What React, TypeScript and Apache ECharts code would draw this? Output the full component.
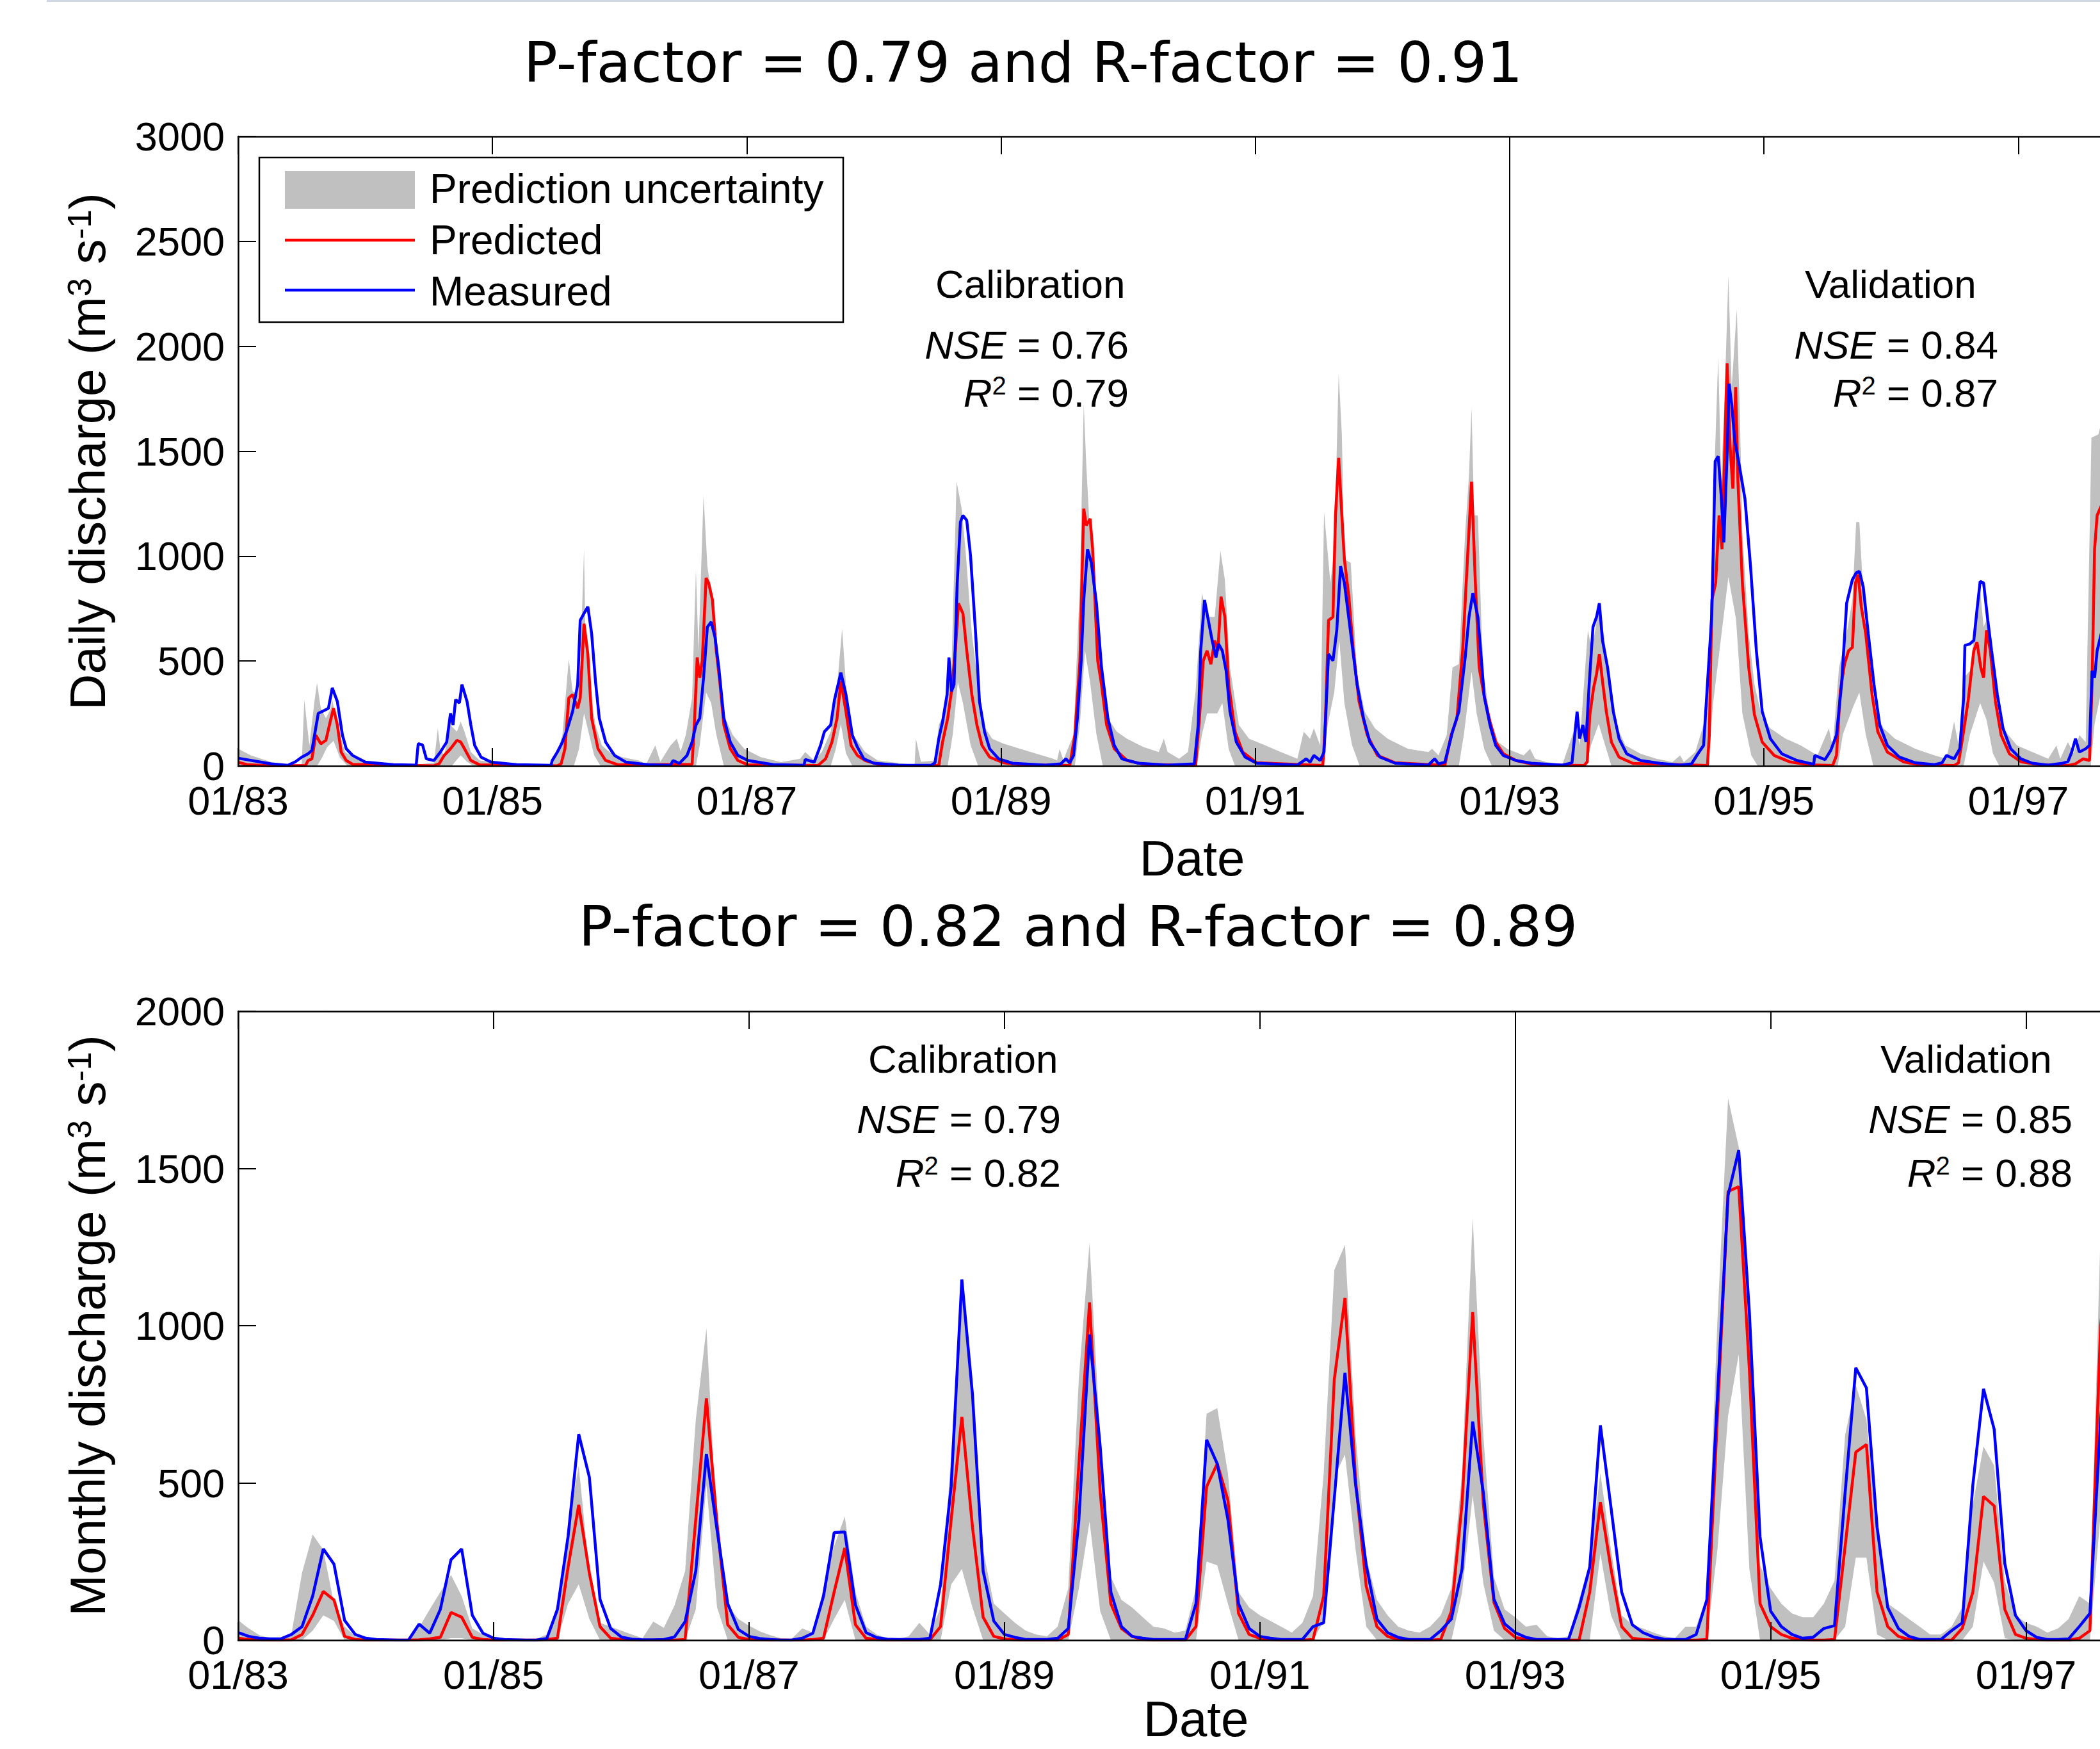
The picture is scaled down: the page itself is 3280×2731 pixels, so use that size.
import React, { useEffect, useRef } from "react";
import * as echarts from "echarts";

const START_YEAR = 1983;
const END_YEAR = 1998;
const CALIBRATION_END = 1993;
const X_TICK_STEP = 2;
const DAILY_Y_MAX = 3000;
const MONTHLY_Y_MAX = 2000;
const Y_TICK_STEP = 500;

const titles = ["P-factor = 0.79 and R-factor = 0.91", "P-factor = 0.82 and R-factor = 0.89"];
const yTitles = ["Daily discharge", "Monthly discharge"];
const periodNames = ["Calibration", "Validation"];
const dailyNSE = ["0.76", "0.84"];
const dailyR2 = ["0.79", "0.87"];
const monthlyNSE = ["0.79", "0.85"];
const monthlyR2 = ["0.82", "0.88"];
const legendNames = ["Prediction uncertainty", "Predicted", "Measured"];

// Daily series: [decimal year, discharge]
const dailyUpper = [
  [1983.00,82],[1983.10,50],[1983.26,18],[1983.39,5],[1983.50,10],[1983.52,316],[1983.56,98],[1983.60,308],[1983.62,396],[1983.65,275],[1983.69,227],[1983.73,275],[1983.74,316],[1983.78,195],[1983.84,66],[1983.90,42],[1984.03,18],[1984.38,5],[1984.54,15],[1984.57,179],[1984.59,80],[1984.62,50],[1984.67,195],[1984.72,163],[1984.75,211],[1984.78,163],[1984.83,66],[1984.90,26],
  [1985.19,5],[1985.47,8],[1985.51,66],[1985.55,147],[1985.60,509],[1985.63,356],[1985.67,340],[1985.69,469],[1985.72,1033],[1985.73,640],[1985.76,404],[1985.81,195],[1985.86,98],[1985.92,66],[1986.02,42],[1986.15,26],[1986.21,10],[1986.28,98],[1986.32,20],[1986.40,98],[1986.45,130],[1986.48,70],[1986.52,147],[1986.57,324],[1986.60,936],[1986.62,549],[1986.66,1290],[1986.69,952],[1986.73,791],[1986.77,469],[1986.82,243],[1986.89,147],[1986.98,82],
  [1987.11,42],[1987.27,18],[1987.42,34],[1987.46,66],[1987.53,26],[1987.59,66],[1987.66,163],[1987.70,308],[1987.75,654],[1987.78,388],[1987.83,147],[1987.87,120],[1987.93,66],[1988.03,26],[1988.32,5],[1988.33,130],[1988.37,20],[1988.48,26],[1988.51,195],[1988.56,259],[1988.61,469],[1988.65,1355],[1988.69,1226],[1988.72,1033],[1988.77,630],[1988.82,388],[1988.86,195],[1988.93,130],
  [1989.02,106],[1989.15,82],[1989.28,58],[1989.41,34],[1989.44,26],[1989.46,82],[1989.49,30],[1989.57,147],[1989.62,872],[1989.65,1725],[1989.67,1435],[1989.70,1097],[1989.75,791],[1989.79,469],[1989.84,227],[1989.91,163],[1989.99,130],[1990.12,90],[1990.24,66],[1990.28,130],[1990.31,66],[1990.40,34],[1990.47,66],[1990.53,356],[1990.58,823],[1990.62,710],[1990.68,710],[1990.725,1025],[1990.76,888],[1990.80,469],[1990.87,195],[1990.95,130],
  [1991.08,98],[1991.20,66],[1991.33,34],[1991.38,163],[1991.43,130],[1991.46,179],[1991.51,98],[1991.54,1210],[1991.59,872],[1991.62,1033],[1991.655,1870],[1991.68,1580],[1991.70,984],[1991.75,968],[1991.80,437],[1991.86,259],[1991.94,179],[1992.04,130],[1992.20,82],[1992.36,66],[1992.39,82],[1992.44,50],[1992.505,147],[1992.55,469],[1992.60,485],[1992.65,1113],[1992.68,1387],[1992.70,1709],[1992.72,1194],[1992.75,1194],[1992.78,630],[1992.80,420],[1992.845,227],[1992.91,114],[1992.98,82],
  [1993.11,50],[1993.16,82],[1993.20,34],[1993.29,18],[1993.415,8],[1993.52,195],[1993.55,100],[1993.615,646],[1993.646,549],[1993.677,662],[1993.705,775],[1993.74,630],[1993.785,388],[1993.85,179],[1993.91,98],[1994.03,58],[1994.155,34],[1994.28,18],[1994.34,50],[1994.37,18],[1994.46,66],[1994.555,259],[1994.616,1516],[1994.64,1951],[1994.663,1355],[1994.69,1758],[1994.72,2338],[1994.746,1806],[1994.786,2177],[1994.81,1677],[1994.83,1113],[1994.88,630],[1994.925,388],[1994.986,227],
  [1995.05,179],[1995.17,130],[1995.29,98],[1995.42,50],[1995.51,179],[1995.54,90],[1995.59,469],[1995.65,630],[1995.695,791],[1995.725,1162],[1995.75,1162],[1995.79,710],[1995.83,469],[1995.88,259],[1995.94,179],[1996.03,130],[1996.19,82],[1996.34,50],[1996.435,34],[1996.495,211],[1996.53,100],[1996.57,420],[1996.62,453],[1996.665,678],[1996.70,839],[1996.727,662],[1996.76,710],[1996.79,469],[1996.835,259],[1996.90,163],[1996.99,98],
  [1997.11,66],[1997.235,34],[1997.30,98],[1997.33,34],[1997.39,114],[1997.435,60],[1997.48,147],[1997.53,114],[1997.575,1564],[1997.63,1580],[1997.70,1750],[1997.80,1200],[1997.90,600],[1998.00,300]
];

const dailyLower = [
  [1983.00,0],[1983.62,0],[1983.66,40],[1983.70,90],[1983.75,120],[1983.80,40],[1983.86,0],[1984.68,0],[1984.72,30],[1984.75,50],[1984.80,20],[1984.85,0],[1985.64,0],[1985.68,80],[1985.72,250],[1985.76,150],[1985.80,50],[1985.85,0],[1986.60,0],[1986.63,100],[1986.68,350],[1986.72,300],[1986.76,150],[1986.82,0],[1987.66,0],[1987.70,80],[1987.74,200],[1987.78,60],[1987.83,0],[1988.58,0],[1988.62,150],[1988.66,400],[1988.70,300],[1988.76,100],[1988.82,0],[1989.58,0],[1989.62,200],[1989.66,550],[1989.70,400],[1989.75,150],[1989.80,0],[1990.54,0],[1990.58,150],[1990.62,250],[1990.70,250],[1990.74,300],[1990.79,80],[1990.84,0],[1991.53,0],[1991.57,200],[1991.62,350],[1991.66,600],[1991.70,300],[1991.76,100],[1991.82,0],[1992.60,0],[1992.64,150],[1992.70,450],[1992.74,250],[1992.80,80],[1992.86,0],[1993.60,0],[1993.64,100],[1993.70,200],[1993.75,100],[1993.80,0],[1994.56,0],[1994.60,300],[1994.66,600],[1994.72,900],[1994.78,700],[1994.83,250],[1994.90,50],[1994.95,0],[1995.58,0],[1995.62,150],[1995.70,280],[1995.75,350],[1995.80,150],[1995.86,0],[1996.57,0],[1996.62,150],[1996.70,300],[1996.75,220],[1996.80,60],[1996.85,0],[1997.57,0],[1997.60,200],[1997.70,500],[1997.80,300],[1997.90,100],[1998.00,0]
];

const dailyPredicted = [
  [1983.00,18],[1983.07,6],[1983.26,1],[1983.53,2],[1983.55,26],[1983.58,34],[1983.61,147],[1983.65,106],[1983.69,122],[1983.73,227],[1983.75,275],[1983.78,195],[1983.81,66],[1983.85,26],[1983.90,8],[1984.54,1],[1984.58,10],[1984.62,50],[1984.67,82],[1984.72,122],[1984.75,114],[1984.78,82],[1984.83,26],[1984.90,5],
  [1985.51,1],[1985.54,10],[1985.57,82],[1985.60,324],[1985.63,340],[1985.67,275],[1985.69,324],[1985.72,678],[1985.75,533],[1985.78,227],[1985.83,82],[1985.89,26],[1985.99,5],[1986.57,8],[1986.59,227],[1986.61,517],[1986.63,420],[1986.65,501],[1986.68,896],[1986.70,872],[1986.73,791],[1986.76,549],[1986.79,388],[1986.82,195],[1986.87,82],[1986.93,26],
  [1987.01,5],[1987.56,2],[1987.62,34],[1987.67,114],[1987.71,227],[1987.74,404],[1987.78,259],[1987.82,98],[1987.87,50],[1987.93,26],[1988.06,3],[1988.51,2],[1988.54,114],[1988.58,227],[1988.61,356],[1988.64,549],[1988.665,775],[1988.70,727],[1988.73,549],[1988.77,340],[1988.81,195],[1988.85,98],[1988.91,42],
  [1989.02,15],[1989.15,5],[1989.54,2],[1989.58,147],[1989.62,501],[1989.65,1226],[1989.67,1146],[1989.70,1178],[1989.72,1033],[1989.76,501],[1989.79,388],[1989.83,195],[1989.89,82],[1989.99,26],[1990.12,8],[1990.53,2],[1990.56,227],[1990.59,501],[1990.62,549],[1990.65,485],[1990.68,598],[1990.705,549],[1990.73,807],[1990.76,710],[1990.79,388],[1990.84,163],[1990.90,66],
  [1991.01,15],[1991.53,2],[1991.55,195],[1991.575,694],[1991.61,710],[1991.63,1194],[1991.655,1468],[1991.68,1194],[1991.70,984],[1991.735,807],[1991.77,549],[1991.815,308],[1991.88,147],[1991.96,50],[1992.10,15],[1992.49,2],[1992.54,147],[1992.585,227],[1992.63,549],[1992.665,952],[1992.70,1355],[1992.73,872],[1992.76,469],[1992.80,330],[1992.845,211],[1992.89,114],[1992.95,58],
  [1993.05,26],[1993.20,5],[1993.585,2],[1993.61,20],[1993.63,243],[1993.66,372],[1993.683,437],[1993.705,533],[1993.73,404],[1993.76,259],[1993.80,114],[1993.86,42],[1993.97,12],[1994.555,2],[1994.57,147],[1994.59,791],[1994.62,872],[1994.647,1194],[1994.67,1033],[1994.69,1484],[1994.71,1919],[1994.734,1516],[1994.755,1322],[1994.777,1806],[1994.795,1355],[1994.83,872],[1994.88,469],[1994.925,243],[1994.986,114],
  [1995.08,50],[1995.20,20],[1995.356,5],[1995.54,2],[1995.57,50],[1995.60,356],[1995.633,485],[1995.665,549],[1995.695,565],[1995.72,872],[1995.74,912],[1995.765,759],[1995.80,630],[1995.85,340],[1995.895,163],[1995.97,66],[1996.095,20],[1996.22,5],[1996.495,2],[1996.53,15],[1996.565,147],[1996.605,308],[1996.65,549],[1996.675,590],[1996.705,469],[1996.727,420],[1996.75,646],[1996.78,549],[1996.82,308],[1996.865,147],[1996.93,58],
  [1997.02,20],[1997.17,5],[1997.39,2],[1997.45,10],[1997.51,34],[1997.56,26],[1997.58,388],[1997.60,1033],[1997.62,1194],[1997.66,1250],[1997.72,1500],[1997.80,900],[1997.90,400],[1998.00,200]
];

const dailyMeasured = [
  [1983.00,37],[1983.26,10],[1983.39,3],[1983.45,20],[1983.50,42],[1983.55,58],[1983.58,74],[1983.63,251],[1983.66,259],[1983.71,275],[1983.74,372],[1983.78,307],[1983.82,147],[1983.85,82],[1983.90,50],[1984.00,18],[1984.22,6],[1984.40,4],[1984.416,106],[1984.45,100],[1984.48,34],[1984.54,26],[1984.59,66],[1984.64,114],[1984.67,251],[1984.69,195],[1984.71,316],[1984.74,300],[1984.76,388],[1984.80,307],[1984.83,195],[1984.86,98],[1984.91,42],[1984.99,18],
  [1985.19,6],[1985.46,3],[1985.47,26],[1985.51,66],[1985.55,114],[1985.59,179],[1985.63,259],[1985.67,388],[1985.69,694],[1985.72,727],[1985.75,759],[1985.78,630],[1985.81,404],[1985.84,227],[1985.89,114],[1985.96,50],[1986.05,18],[1986.24,5],[1986.40,3],[1986.42,26],[1986.47,12],[1986.53,50],[1986.57,114],[1986.60,195],[1986.63,227],[1986.66,420],[1986.69,662],[1986.72,686],[1986.75,614],[1986.78,469],[1986.82,227],[1986.87,114],[1986.93,50],
  [1987.01,26],[1987.21,6],[1987.45,3],[1987.46,31],[1987.53,18],[1987.58,98],[1987.61,163],[1987.66,195],[1987.69,316],[1987.74,445],[1987.78,340],[1987.83,147],[1987.87,90],[1987.92,34],[1988.00,13],[1988.19,4],[1988.45,3],[1988.48,15],[1988.51,130],[1988.54,211],[1988.575,340],[1988.59,517],[1988.61,356],[1988.63,388],[1988.655,872],[1988.68,1162],[1988.70,1194],[1988.73,1170],[1988.76,1000],[1988.80,630],[1988.83,308],[1988.87,163],[1988.91,82],[1988.98,34],
  [1989.09,13],[1989.35,4],[1989.47,10],[1989.51,34],[1989.54,15],[1989.57,50],[1989.60,227],[1989.63,501],[1989.65,791],[1989.68,1033],[1989.71,968],[1989.75,775],[1989.79,469],[1989.84,227],[1989.89,98],[1989.95,34],[1990.08,13],[1990.31,4],[1990.52,10],[1990.55,195],[1990.57,549],[1990.60,791],[1990.63,694],[1990.66,598],[1990.69,517],[1990.71,582],[1990.74,549],[1990.77,453],[1990.80,259],[1990.85,114],[1990.92,42],
  [1991.01,13],[1991.33,4],[1991.40,34],[1991.43,18],[1991.46,50],[1991.51,26],[1991.54,66],[1991.575,533],[1991.61,501],[1991.64,646],[1991.67,952],[1991.70,872],[1991.75,630],[1991.80,388],[1991.85,227],[1991.90,114],[1991.98,42],[1992.10,13],[1992.36,4],[1992.41,34],[1992.44,10],[1992.49,18],[1992.55,163],[1992.60,259],[1992.65,517],[1992.68,710],[1992.71,823],[1992.75,710],[1992.77,560],[1992.80,330],[1992.845,195],[1992.89,98],[1992.95,50],
  [1993.05,26],[1993.17,13],[1993.415,4],[1993.49,15],[1993.53,259],[1993.55,130],[1993.575,195],[1993.60,114],[1993.625,388],[1993.655,662],[1993.683,710],[1993.705,775],[1993.73,598],[1993.77,469],[1993.815,259],[1993.86,130],[1993.92,58],[1994.03,26],[1994.185,12],[1994.34,4],[1994.43,10],[1994.48,58],[1994.525,98],[1994.555,388],[1994.59,727],[1994.616,1452],[1994.64,1476],[1994.663,1290],[1994.684,1065],[1994.71,1484],[1994.725,1822],[1994.746,1725],[1994.77,1548],[1994.80,1452],[1994.85,1274],[1994.894,952],[1994.94,549],[1994.986,259],
  [1995.05,130],[1995.14,58],[1995.26,26],[1995.39,8],[1995.40,50],[1995.48,30],[1995.525,74],[1995.57,147],[1995.61,388],[1995.65,775],[1995.695,888],[1995.725,920],[1995.75,928],[1995.78,855],[1995.82,630],[1995.865,388],[1995.91,195],[1995.97,98],[1996.065,42],[1996.19,15],[1996.34,6],[1996.40,15],[1996.435,50],[1996.495,34],[1996.54,82],[1996.57,324],[1996.58,574],[1996.62,582],[1996.65,598],[1996.675,743],[1996.70,880],[1996.727,872],[1996.76,694],[1996.79,549],[1996.835,340],[1996.88,179],[1996.94,82],
  [1997.02,34],[1997.11,13],[1997.235,4],[1997.34,12],[1997.39,20],[1997.42,66],[1997.45,130],[1997.48,66],[1997.53,82],[1997.56,98],[1997.58,453],[1997.60,420],[1997.62,549],[1997.66,650],[1997.72,900],[1997.80,700],[1997.90,300],[1998.00,150]
];

// Monthly series: one value per month from 01/1983
const monthlyUpper = [
  63,37,16,6,6,18,214,336,287,116,43,12,
  4,4,4,4,4,40,98,153,207,140,37,18,
  6,4,4,4,4,18,110,360,555,213,55,43,
  30,18,6,59,39,110,220,701,992,348,110,67,
  46,28,16,6,4,37,24,165,299,393,153,43,
  18,6,4,12,55,18,104,592,1140,800,287,116,
  85,55,30,18,12,43,165,836,1263,640,201,128,
  104,73,43,37,24,30,165,720,738,531,153,104,
  79,61,43,24,55,140,530,1177,1257,653,262,128,
  79,43,30,24,43,79,165,531,1342,653,200,98,
  73,43,49,12,6,12,128,250,531,287,79,49,
  37,24,12,6,43,43,140,1019,1723,1568,1043,238,
  165,116,85,73,73,116,189,653,811,701,360,116,
  92,67,43,18,18,43,104,433,616,555,189,79,
  55,43,24,37,67,140,116,1300,1600,900,300,100
];
const monthlyLower = [
  0,0,0,0,0,0,0,30,79,61,0,0,
  0,0,0,0,0,0,0,0,6,6,0,0,
  0,0,0,0,0,0,0,116,177,67,0,0,
  0,0,0,0,0,0,0,98,494,104,0,0,
  0,0,0,0,0,0,0,0,67,128,0,0,
  0,0,0,0,0,0,0,177,226,104,0,0,
  0,0,0,0,0,0,0,165,378,92,0,0,
  0,0,0,0,0,0,0,250,238,116,0,0,
  0,0,0,0,0,0,60,519,590,287,43,0,
  0,0,0,0,0,0,0,150,460,180,30,0,
  0,0,0,0,0,0,0,0,275,79,0,0,
  0,0,0,0,0,0,0,287,714,909,226,0,
  0,0,0,0,0,0,0,43,262,262,18,0,
  0,0,0,0,0,0,0,43,250,183,6,0,
  0,0,0,0,0,0,0,400,600,300,50,0
];
const monthlyPredicted = [
  6,2,1,0,0,1,18,79,155,128,12,2,
  0,0,0,0,0,1,4,9,88,73,9,2,
  0,0,0,0,0,2,6,232,430,213,43,6,
  2,1,0,0,0,0,2,384,769,370,49,9,
  2,1,0,0,0,0,2,6,153,293,49,6,
  2,0,0,0,0,1,43,384,710,360,73,12,
  4,1,0,0,0,0,18,560,1074,470,116,37,
  12,2,0,0,0,0,43,488,561,445,85,18,
  6,2,0,0,0,2,140,830,1088,506,171,43,
  12,2,0,0,0,2,92,433,1043,433,120,37,
  9,2,0,0,0,0,0,153,439,226,43,6,
  2,0,0,0,0,0,2,714,1427,1442,860,116,
  43,18,6,2,0,0,2,299,598,622,153,43,
  12,2,0,0,0,0,37,153,457,427,98,18,
  6,2,0,0,0,6,30,1000,1300,700,200,50
];
const monthlyMeasured = [
  24,12,6,4,4,18,43,140,290,242,63,18,
  6,2,1,0,0,51,22,98,256,290,79,22,
  6,2,1,0,0,5,98,330,655,518,130,37,
  10,3,1,1,2,10,59,220,592,350,116,34,
  12,5,2,0,0,6,22,140,342,344,112,24,
  8,3,2,2,2,6,177,490,1147,781,220,61,
  18,9,2,2,2,6,37,384,972,616,153,43,
  12,6,2,2,2,2,116,637,561,384,116,37,
  12,6,2,2,2,43,55,453,850,494,238,67,
  24,9,2,2,2,30,67,226,695,470,130,52,
  24,9,2,2,2,2,104,232,683,421,153,49,
  24,10,3,2,2,18,128,775,1415,1558,1043,329,
  92,43,18,6,9,37,46,470,866,802,360,104,
  37,12,2,2,2,30,55,494,799,671,244,79,
  30,9,2,2,4,43,85,700,1100,800,250,80
];

const GRAY = "#c0c0c0";
const RED = "#ff0000";
const BLUE = "#0000ff";
const FONT = "'Liberation Sans', Arial, sans-serif";
const TITLE_FONT = "'DejaVu Sans', sans-serif";
const LINE_W = 4.5;

const fromYears = (pairs: number[][]) => pairs.map(([yr, v]) => [yr - START_YEAR, v]);
const fromMonths = (vals: number[]) => vals.map((v, i) => [i / 12, v]);
const xLabel = (v: number) => "01/" + String((START_YEAR + v) % 100).padStart(2, "0");

function xAxisDef(gridIndex: number, position: string, showLabel: boolean) {
  return {
    gridIndex, type: "value", position, min: 0, max: END_YEAR - START_YEAR, interval: X_TICK_STEP,
    axisLine: { show: true, onZero: false, lineStyle: { color: "#000", width: 2.5 } },
    axisTick: { show: true, inside: true, length: 28, lineStyle: { color: "#000", width: 2 } },
    axisLabel: {
      show: showLabel, formatter: xLabel, fontFamily: FONT, fontSize: 63, color: "#000", margin: 22,
      hideOverlap: false, showMaxLabel: false,
    },
    splitLine: { show: false }, z: 5,
  };
}
function yAxisDef(gridIndex: number, max: number) {
  return {
    gridIndex, type: "value", min: 0, max, interval: Y_TICK_STEP,
    axisLine: { show: true, onZero: false, lineStyle: { color: "#000", width: 2.5 } },
    axisTick: { show: true, inside: true, length: 28, lineStyle: { color: "#000", width: 2 } },
    axisLabel: { formatter: (v: number) => String(v), fontFamily: FONT, fontSize: 63, color: "#000", margin: 21, hideOverlap: false },
    splitLine: { show: false }, z: 5,
  };
}
function areaSeries(data: number[][], color: string, xi: number, yi: number) {
  return {
    type: "line", xAxisIndex: xi, yAxisIndex: yi, data, symbol: "none", showSymbol: false, silent: true,
    lineStyle: { width: 0, opacity: 0 }, areaStyle: { color, opacity: 1, origin: "start" }, z: 2,
  };
}
function lineSeries(data: number[][], color: string, xi: number, yi: number, divider: boolean) {
  const s: any = {
    type: "line", xAxisIndex: xi, yAxisIndex: yi, data, symbol: "none", showSymbol: false, silent: true,
    lineStyle: { color, width: LINE_W }, z: 3,
  };
  if (divider) {
    s.markLine = {
      silent: true, symbol: ["none", "none"], label: { show: false }, animation: false,
      lineStyle: { color: "#000", width: 2, type: "solid" },
      data: [{ xAxis: CALIBRATION_END - START_YEAR }],
    };
  }
  return s;
}

const rich = {
  a: { fontFamily: FONT, fontSize: 62, fill: "#000" },
  i: { fontFamily: FONT, fontSize: 62, fill: "#000", fontStyle: "italic" },
  s: { fontFamily: FONT, fontSize: 40, fill: "#000", verticalAlign: "top" },
};
const titleRich = {
  a: { fontFamily: FONT, fontSize: 78, fill: "#000" },
  s: { fontFamily: FONT, fontSize: 52, fill: "#000", verticalAlign: "top" },
};

function text(x: number, y: number, str: string, extra: any = {}) {
  return {
    type: "text", x, y, silent: true, z: 100,
    style: { text: str, fill: "#000", fontFamily: FONT, fontSize: 62, align: "left", verticalAlign: "middle", ...extra },
  };
}
function stats(xRight: number, yNse: number, yR2: number, nse: string, r2: string) {
  return [
    text(xRight, yNse, `{i|NSE}{a| = ${nse}}`, { align: "right", rich }),
    text(xRight, yR2, `{i|R}{s|2}{a| = ${r2}}`, { align: "right", rich }),
  ];
}
function yTitle(x: number, y: number, label: string) {
  return {
    type: "text", x, y, rotation: Math.PI / 2, silent: true, z: 100,
    style: {
      text: `{a|${label} (m}{s|3}{a| s}{s|-1}{a|)}`, rich: titleRich,
      align: "center", verticalAlign: "middle", fill: "#000",
    },
  };
}

function buildOption() {
  const graphic: any[] = [
    { type: "rect", shape: { x: 73, y: 0, width: 3207, height: 3 }, style: { fill: "#cfd6e4" }, silent: true },
    text(1598, 97, titles[0], { fontFamily: TITLE_FONT, fontSize: 88, align: "center" }),
    text(1684, 1446, titles[1], { fontFamily: TITLE_FONT, fontSize: 88, align: "center" }),
    yTitle(137, 705, yTitles[0]),
    yTitle(137, 2070, yTitles[1]),
    text(1862, 1340, "Date", { fontSize: 78, align: "center" }),
    text(1868, 2684, "Date", { fontSize: 78, align: "center" }),
    text(1461, 443, periodNames[0]),
    text(2819, 443, periodNames[1]),
    ...stats(1763, 538, 613, dailyNSE[0], dailyR2[0]),
    ...stats(3121, 538, 613, dailyNSE[1], dailyR2[1]),
    text(1356, 1653, periodNames[0]),
    text(2937, 1653, periodNames[1]),
    ...stats(1657, 1747, 1831, monthlyNSE[0], monthlyR2[0]),
    ...stats(3237, 1747, 1831, monthlyNSE[1], monthlyR2[1]),
    // legend
    { type: "rect", z: 99, silent: true, shape: { x: 405, y: 246, width: 912, height: 257 }, style: { fill: "#fff", stroke: "#000", lineWidth: 2.5 } },
    { type: "rect", z: 100, silent: true, shape: { x: 445, y: 267, width: 203, height: 59 }, style: { fill: GRAY } },
    { type: "line", z: 100, silent: true, shape: { x1: 445, y1: 375, x2: 648, y2: 375 }, style: { stroke: RED, lineWidth: 4.5 } },
    { type: "line", z: 100, silent: true, shape: { x1: 445, y1: 453, x2: 648, y2: 453 }, style: { stroke: BLUE, lineWidth: 4.5 } },
    text(671, 295, legendNames[0], { fontSize: 64 }),
    text(671, 375, legendNames[1], { fontSize: 64 }),
    text(671, 455, legendNames[2], { fontSize: 64 }),
  ];

  return {
    animation: false,
    backgroundColor: "#fff",
    grid: [
      { left: 372, top: 213, width: 2979, height: 983, outerBoundsMode: "none", containLabel: false },
      { left: 372, top: 1579, width: 2992, height: 982, outerBoundsMode: "none", containLabel: false },
    ],
    xAxis: [xAxisDef(0, "bottom", true), xAxisDef(0, "top", false), xAxisDef(1, "bottom", true), xAxisDef(1, "top", false)],
    yAxis: [yAxisDef(0, DAILY_Y_MAX), yAxisDef(1, MONTHLY_Y_MAX)],
    series: [
      areaSeries(fromYears(dailyUpper), GRAY, 0, 0),
      areaSeries(fromYears(dailyLower), "#ffffff", 0, 0),
      lineSeries(fromYears(dailyPredicted), RED, 0, 0, false),
      lineSeries(fromYears(dailyMeasured), BLUE, 0, 0, true),
      areaSeries(fromMonths(monthlyUpper), GRAY, 2, 1),
      areaSeries(fromMonths(monthlyLower), "#ffffff", 2, 1),
      lineSeries(fromMonths(monthlyPredicted), RED, 2, 1, false),
      lineSeries(fromMonths(monthlyMeasured), BLUE, 2, 1, true),
    ],
    graphic,
  };
}

export default function App() {
  const ref = useRef<HTMLDivElement>(null);
  useEffect(() => {
    const chart = echarts.init(ref.current as HTMLDivElement, null, { renderer: "svg" });
    chart.setOption(buildOption() as any);
    return () => chart.dispose();
  }, []);
  return (
    <div
      ref={ref}
      style={{ position: "absolute", left: 0, top: 0, width: 3280, height: 2731, background: "#fff" }}
    />
  );
}
